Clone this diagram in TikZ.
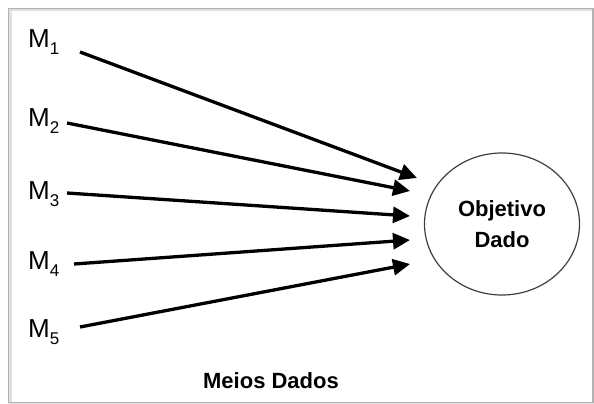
\documentclass[tikz,border=0pt]{standalone}
\usepackage{fontspec}
\setmainfont{Liberation Sans}
\usetikzlibrary{arrows.meta,shapes.geometric}
\tikzset{
  mlabel/.style={anchor=base west,inner sep=0pt,font=\fontsize{26}{26}\selectfont},
  conn/.style={line width=3.3pt,-{Triangle[length=17pt,width=16pt]}},
  goalnode/.style={ellipse,draw=black!75,line width=1.2pt,minimum width=155pt,minimum height=142pt,inner sep=0pt,align=center,font=\bfseries\fontsize{22}{31}\selectfont},
  caption/.style={anchor=base,inner sep=0pt,font=\bfseries\fontsize{22}{22}\selectfont}
}
\newcommand{\msub}[1]{M\raisebox{-7pt}{\fontsize{17}{17}\selectfont #1}}
\begin{document}
\begin{tikzpicture}[x=1pt,y=-1pt]
\useasboundingbox (0,0) rectangle (594,404);
\fill[white] (0,0) rectangle (594,404);
\draw[black!12,line width=3pt] (10,10) rectangle (595,404);
\draw[black!30,line width=1.2pt] (8.5,8.5) rectangle (593,402.5);
\node[mlabel] (m1) at (28,48) {\msub{1}};
\node[mlabel] (m2) at (28,126) {\msub{2}};
\node[mlabel] (m3) at (28,199) {\msub{3}};
\node[mlabel] (m4) at (28,269) {\msub{4}};
\node[mlabel] (m5) at (28,337) {\msub{5}};
\coordinate (s1) at (80,52);
\coordinate (s2) at (67,123);
\coordinate (s3) at (67,193);
\coordinate (s4) at (74,264);
\coordinate (s5) at (80,327);
\coordinate (t1) at (417,178);
\coordinate (t2) at (410,191);
\coordinate (t3) at (410,216);
\coordinate (t4) at (410,240);
\coordinate (t5) at (410,264);
\node[goalnode] (goal) at (502,224) {Objetivo\\Dado};
\foreach \i in {1,...,5} \draw[conn] (s\i) -- (t\i);
\node[caption] (cap) at (271,388) {Meios Dados};
\end{tikzpicture}
\end{document}
